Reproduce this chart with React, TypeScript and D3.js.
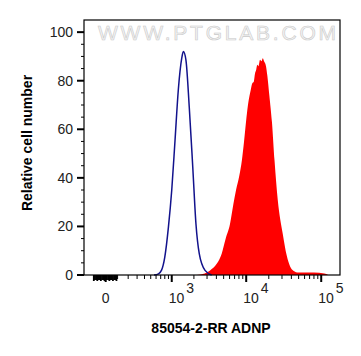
import * as d3 from "d3";
import React from "react";

// frame of the plot
const frame = { left: 84, right: 340, top: 20, bottom: 275 };

// biexponential-ish x axis (asinh), C = width of linear zone
const C = 268;
const xMin = -192;
const xMax = 178000;

// isotype control (blue outline)
const blueX = [560, 650, 720, 800, 900, 1000, 1110, 1230, 1370, 1440, 1560, 1730, 1930, 2130, 2360, 2820, 3460];
const blueY = [0, 0.5, 2, 7.4, 19.8, 35, 55.6, 76.2, 89.3, 92, 88.6, 69.3, 44.5, 21.1, 8.8, 1.9, 0];

// 85054-2-RR ADNP stained (red filled)
const redX = [2180, 2800, 3290, 4040, 4710, 5330, 6080, 6730, 7320, 8100, 8760, 9360, 10000, 10480, 11490, 12070, 12600, 13110, 13600, 14080, 14600, 15290, 16000, 16620, 17300, 18390, 19140, 20340, 22040, 23880, 26330, 30700, 34700, 38500, 42500, 50000, 80000, 110000, 124000];
const redY = [0, 0.6, 1.9, 4.6, 8.8, 15, 21, 29, 35, 41, 47.3, 55, 63.8, 69.3, 76.2, 79, 79.5, 83, 84.5, 86.6, 86, 88.6, 88, 89.2, 88, 85.9, 82, 74, 63, 47, 31, 17, 8, 3.5, 1.8, 1.0, 1.0, 0.6, 0];

const yMajor = [0, 20, 40, 60, 80, 100];
const yMinor = d3.range(5, 105, 5).filter((v) => v % 20 !== 0);
const xMajor = [0, 1e3, 1e4, 1e5];
const xMajorLabels = ["0", "3", "4", "5"];
// ticks of the linear zone around 0 (drawn heavier, they clump together)
const xZero = [-100, ...d3.range(-90, 0, 10), ...d3.range(10, 100, 10)];
const xMinor = [
  ...d3.range(100, 1000, 100),
  ...d3.range(2000, 10000, 1000),
  ...d3.range(20000, 100000, 10000),
];

const font = "'Liberation Sans', Arial, Helvetica, sans-serif";

export default function App() {
  const t = (v: number) => Math.asinh(v / C);
  const xs = d3.scaleLinear().domain([t(xMin), t(xMax)]).range([frame.left, frame.right]);
  const x = (v: number) => xs(t(v));
  const y = d3.scaleLinear().domain([0, 105]).range([frame.bottom, frame.top]);

  const blue = blueX.map((v, i) => [v, blueY[i]] as [number, number]);
  const red = redX.map((v, i) => [v, redY[i]] as [number, number]);

  const line = d3.line<[number, number]>()
    .x((d) => x(d[0]))
    .y((d) => y(d[1]))
    .curve(d3.curveMonotoneX);
  const area = d3.area<[number, number]>()
    .x((d) => x(d[0]))
    .y0(y(0))
    .y1((d) => y(d[1]))
    .curve(d3.curveMonotoneX);

  return (
    <svg width={361} height={356} style={{ position: "absolute", left: 0, top: 0, background: "#fff" }}>
      {/* watermark */}
      <text x={98} y={40} fontFamily={font} fontSize={21} textLength={238} lengthAdjust="spacing"
        fill="#f4f4f4" stroke="#c9c9c9" strokeWidth={0.6}>WWW.PTGLAB.COM</text>

      <path d={area(red) || ""} fill="#ff0000" />
      <path d={line(blue) || ""} fill="none" stroke="#12128c" strokeWidth={1.5} />

      <rect x={frame.left} y={frame.top} width={frame.right - frame.left} height={frame.bottom - frame.top}
        fill="none" stroke="#000" strokeWidth={1.2} />

      {/* y axis */}
      {yMajor.map((v) => (
        <g key={"ym" + v}>
          <line x1={77} x2={frame.left} y1={y(v)} y2={y(v)} stroke="#000" strokeWidth={2} />
          <text x={73} y={y(v)} dy="0.35em" textAnchor="end" fontFamily={font} fontSize={14} fill="#222">{v}</text>
        </g>
      ))}
      {yMinor.map((v) => (
        <line key={"yn" + v} x1={81} x2={frame.left} y1={y(v)} y2={y(v)} stroke="#000" strokeWidth={1} />
      ))}

      {/* x axis */}
      {xZero.map((v, i) => (
        <line key={"xz" + v} x1={x(v)} x2={x(v)} y1={frame.bottom} y2={frame.bottom + (i % 3 === 0 ? 6 : 5)}
          stroke="#000" strokeWidth={1.8} />
      ))}
      {xMinor.map((v) => (
        <line key={"xn" + v} x1={x(v)} x2={x(v)} y1={frame.bottom} y2={frame.bottom + 4} stroke="#000" strokeWidth={1} />
      ))}
      {xMajor.map((v, i) => (
        <g key={"xm" + v}>
          <line x1={x(v)} x2={x(v)} y1={frame.bottom} y2={frame.bottom + 7} stroke="#000" strokeWidth={2} />
          {i === 0 ? (
            <text x={x(v)} y={303} textAnchor="middle" fontFamily={font} fontSize={14} fill="#222">0</text>
          ) : (
            <text x={x(v) - 3} y={303} fontFamily={font} fontSize={14} fill="#222">
              10<tspan dx={2} dy={-10}>{xMajorLabels[i]}</tspan>
            </text>
          )}
        </g>
      ))}

      {/* axis titles */}
      <text transform="translate(32,143) rotate(-90)" textAnchor="middle" fontFamily={font} fontSize={14}
        fontWeight="bold" fill="#000">Relative cell number</text>
      <text x={211} y={333} textAnchor="middle" fontFamily={font} fontSize={14} fontWeight="bold"
        fill="#000">85054-2-RR ADNP</text>
    </svg>
  );
}
